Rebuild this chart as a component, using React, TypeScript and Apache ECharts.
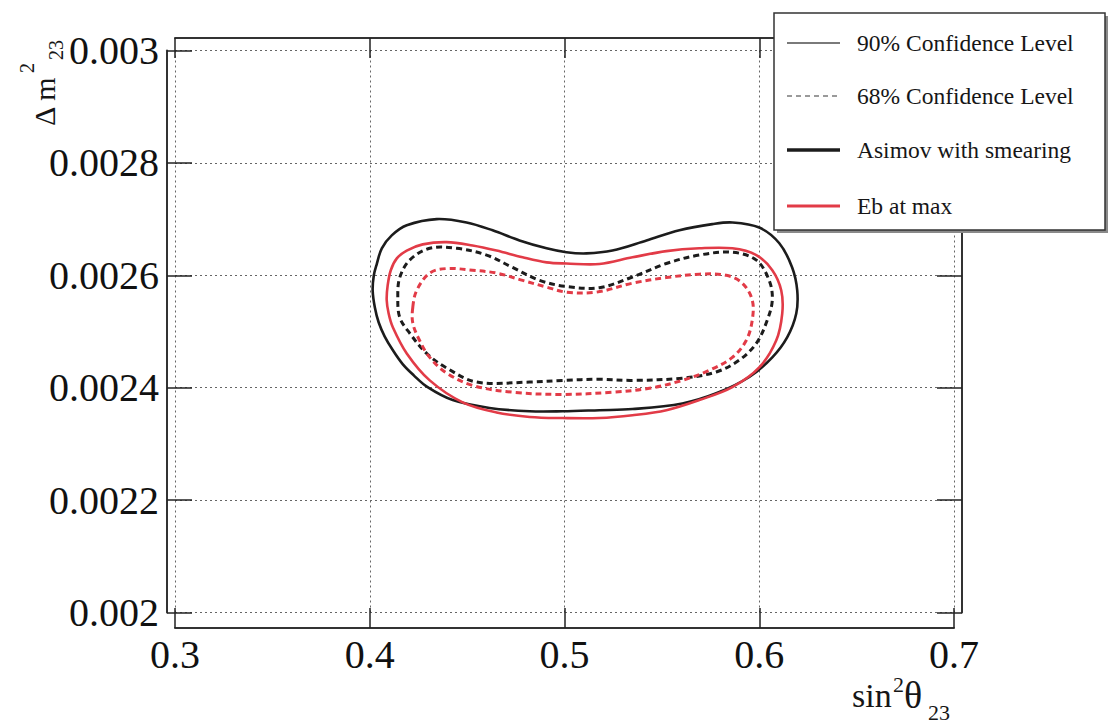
import React, { useEffect, useRef } from 'react';
import * as echarts from 'echarts';

// Axis ranges (tick labels come from these through the axis)
const X_MIN = 0.3;
const X_MAX = 0.7;
const X_STEP = 0.1;
const Y_MIN = 0.002;
const Y_MAX = 0.003;
const Y_STEP = 0.0002;

// Contours: [sin^2 theta23, delta m^2_23]
const asimov90: number[][] = [
  [0.4015, 0.002573], [0.4021, 0.002600], [0.4036, 0.002620], [0.4062, 0.002648],
  [0.4113, 0.002671], [0.4190, 0.002689], [0.4344, 0.002700], [0.4497, 0.002694],
  [0.4631, 0.002680], [0.4769, 0.002662], [0.4908, 0.002648], [0.5010, 0.002641],
  [0.5113, 0.002639], [0.5246, 0.002644], [0.5421, 0.002662], [0.5590, 0.002680],
  [0.5759, 0.002691], [0.5862, 0.002694], [0.6000, 0.002685], [0.6103, 0.002657],
  [0.6169, 0.002614], [0.6195, 0.002573], [0.6190, 0.002532], [0.6144, 0.002490],
  [0.6067, 0.002454], [0.5949, 0.002419], [0.5779, 0.002390], [0.5605, 0.002372],
  [0.5349, 0.002362], [0.5179, 0.002360], [0.4990, 0.002358], [0.4821, 0.002358],
  [0.4615, 0.002364], [0.4426, 0.002378], [0.4297, 0.002401], [0.4226, 0.002422],
  [0.4169, 0.002442], [0.4118, 0.002467], [0.4077, 0.002491], [0.4046, 0.002516],
  [0.4026, 0.002543],
];

const asimov68: number[][] = [
  [0.4144, 0.002561], [0.4154, 0.002596], [0.4205, 0.002627], [0.4308, 0.002648],
  [0.4446, 0.002648], [0.4600, 0.002636], [0.4733, 0.002614], [0.4872, 0.002591],
  [0.5010, 0.002580], [0.5179, 0.002578], [0.5349, 0.002597], [0.5523, 0.002621],
  [0.5692, 0.002636], [0.5862, 0.002641], [0.5985, 0.002627], [0.6051, 0.002591],
  [0.6067, 0.002556], [0.6041, 0.002520], [0.5985, 0.002479], [0.5897, 0.002449],
  [0.5779, 0.002428], [0.5605, 0.002417], [0.5349, 0.002413], [0.5179, 0.002415],
  [0.4990, 0.002413], [0.4821, 0.002410], [0.4549, 0.002410], [0.4395, 0.002435],
  [0.4292, 0.002461], [0.4205, 0.002497], [0.4154, 0.002525],
];

const ebMax90: number[][] = [
  [0.4087, 0.002556], [0.4092, 0.002582], [0.4108, 0.002609], [0.4139, 0.002630],
  [0.4190, 0.002644], [0.4272, 0.002655], [0.4395, 0.002659], [0.4528, 0.002653],
  [0.4651, 0.002644], [0.4785, 0.002632], [0.4908, 0.002623], [0.5010, 0.002621],
  [0.5179, 0.002620], [0.5349, 0.002632], [0.5523, 0.002643], [0.5692, 0.002648],
  [0.5862, 0.002648], [0.5985, 0.002636], [0.6067, 0.002609], [0.6113, 0.002573],
  [0.6118, 0.002532], [0.6087, 0.002484], [0.6000, 0.002436], [0.5862, 0.002401],
  [0.5692, 0.002378], [0.5523, 0.002360], [0.5349, 0.002351], [0.5179, 0.002346],
  [0.4990, 0.002346], [0.4821, 0.002348], [0.4651, 0.002356], [0.4477, 0.002374],
  [0.4308, 0.002413], [0.4190, 0.002461], [0.4118, 0.002508], [0.4097, 0.002532],
];

const ebMax68: number[][] = [
  [0.4221, 0.002543], [0.4241, 0.002573], [0.4308, 0.002604], [0.4395, 0.002612],
  [0.4528, 0.002609], [0.4651, 0.002604], [0.4785, 0.002591], [0.4908, 0.002579],
  [0.5010, 0.002570], [0.5164, 0.002570], [0.5349, 0.002586], [0.5523, 0.002596],
  [0.5692, 0.002602], [0.5831, 0.002600], [0.5913, 0.002586], [0.5964, 0.002556],
  [0.5964, 0.002520], [0.5933, 0.002484], [0.5862, 0.002454], [0.5744, 0.002431],
  [0.5605, 0.002413], [0.5436, 0.002399], [0.5246, 0.002392], [0.4990, 0.002388],
  [0.4733, 0.002392], [0.4528, 0.002404], [0.4395, 0.002426], [0.4308, 0.002454],
  [0.4256, 0.002484], [0.4221, 0.002515],
];

const legendLabels = ['90% Confidence Level', '68% Confidence Level', 'Asimov with smearing', 'Eb at max'];

const SERIF = '"Liberation Serif", "DejaVu Serif", serif';
const BLACK = '#1c1c1c';
const RED = '#e23b47';

function contour(name: string, pts: number[][], color: string, dashed: boolean, width: number) {
  return {
    name,
    type: 'custom',
    coordinateSystem: 'cartesian2d',
    xAxisIndex: 0,
    yAxisIndex: 0,
    data: pts,
    encode: { x: 0, y: 1 },
    silent: true,
    renderItem: (params: any, api: any) => {
      if (params.dataIndex !== 0) return null;
      const points = pts.map((p) => api.coord(p));
      return {
        type: 'polygon',
        shape: { points, smooth: 0.35 },
        style: {
          fill: 'none',
          stroke: color,
          lineWidth: width,
          lineDash: dashed ? [6, 4] : null,
        },
      };
    },
  };
}

function txt(text: string, x: number, y: number, size: number, align = 'left') {
  return {
    type: 'text',
    x,
    y,
    z: 110,
    style: {
      text,
      font: `${size}px "Liberation Serif", serif`,
      fontFamily: SERIF,
      fontSize: size,
      fill: '#161616',
      align,
      textAlign: align,
      verticalAlign: 'middle',
      textVerticalAlign: 'middle',
    },
  };
}

export default function App() {
  const ref = useRef<HTMLDivElement>(null);
  useEffect(() => {
    if (!ref.current) return;
    const chart = echarts.init(ref.current, null, { renderer: 'svg' });
    const fmt = (v: number) => String(parseFloat(v.toFixed(4)));
    const legendRows = [43, 96, 150, 206];
    const option: any = {
      animation: false,
      backgroundColor: '#ffffff',
      grid: { left: 175, right: 158, top: 50.5, bottom: 111.5, containLabel: false },
      xAxis: [
        {
          type: 'value', min: X_MIN, max: X_MAX, interval: X_STEP, position: 'bottom', offset: 15.5,
          axisLine: { show: true, onZero: false, lineStyle: { color: '#333', width: 2 } },
          axisTick: { show: true, inside: true, length: 20, lineStyle: { color: '#222', width: 1.5 } },
          axisLabel: { show: true, margin: 6, fontFamily: SERIF, fontSize: 40, color: '#111', formatter: fmt },
          splitLine: { show: true, lineStyle: { color: '#666', width: 1, type: [2, 3] } },
        },
        {
          type: 'value', min: X_MIN, max: X_MAX, interval: X_STEP, position: 'top', offset: 12.5,
          axisLine: { show: true, onZero: false, lineStyle: { color: '#333', width: 2 } },
          axisTick: { show: true, inside: true, length: 20, lineStyle: { color: '#222', width: 1.5 } },
          axisLabel: { show: false },
          splitLine: { show: false },
        },
      ],
      yAxis: [
        {
          type: 'value', min: Y_MIN, max: Y_MAX, interval: Y_STEP, position: 'left', offset: 8,
          axisLine: { show: true, onZero: false, lineStyle: { color: '#333', width: 2 } },
          axisTick: { show: true, inside: true, length: 25, lineStyle: { color: '#222', width: 1.5 } },
          axisLabel: { show: true, margin: 8, fontFamily: SERIF, fontSize: 40, color: '#111', formatter: fmt },
          splitLine: { show: true, lineStyle: { color: '#666', width: 1, type: [2, 3] } },
        },
        {
          type: 'value', min: Y_MIN, max: Y_MAX, interval: Y_STEP, position: 'right', offset: 8,
          axisLine: { show: true, onZero: false, lineStyle: { color: '#333', width: 2 } },
          axisTick: { show: true, inside: true, length: 25, lineStyle: { color: '#222', width: 1.5 } },
          axisLabel: { show: false },
          splitLine: { show: false },
        },
      ],
      series: [
        contour('Asimov 90%', asimov90, BLACK, false, 2.6),
        contour('Asimov 68%', asimov68, BLACK, true, 3),
        contour('Eb at max 90%', ebMax90, RED, false, 2.6),
        contour('Eb at max 68%', ebMax68, RED, true, 3),
      ],
      graphic: {
        elements: [
          // legend box shadow + box
          { type: 'rect', z: 100, shape: { x: 777, y: 16, width: 331, height: 217 }, style: { fill: '#8a8a8a' } },
          { type: 'rect', z: 101, shape: { x: 774, y: 13, width: 331, height: 217 }, style: { fill: '#ffffff', stroke: '#333', lineWidth: 1.5 } },
          { type: 'line', z: 110, shape: { x1: 787, y1: legendRows[0], x2: 840, y2: legendRows[0] }, style: { stroke: '#7a7a7a', lineWidth: 2 } },
          { type: 'line', z: 110, shape: { x1: 787, y1: legendRows[1], x2: 840, y2: legendRows[1] }, style: { stroke: '#9a9a9a', lineWidth: 2, lineDash: [5, 4] } },
          { type: 'line', z: 110, shape: { x1: 787, y1: legendRows[2], x2: 840, y2: legendRows[2] }, style: { stroke: BLACK, lineWidth: 3.5 } },
          { type: 'line', z: 110, shape: { x1: 787, y1: legendRows[3], x2: 840, y2: legendRows[3] }, style: { stroke: RED, lineWidth: 3 } },
          txt(legendLabels[0], 857, legendRows[0], 23.5),
          txt(legendLabels[1], 857, legendRows[1], 23.5),
          txt(legendLabels[2], 857, legendRows[2], 23.5),
          txt(legendLabels[3], 857, legendRows[3], 23.5),
          // x axis title: sin^2 theta_23
          txt('sin', 852, 695, 34),
          txt('2', 893, 684, 22),
          txt('θ', 904, 695, 38),
          txt('23', 928, 712, 22),
          // y axis title: Delta m^2_23 (rotated)
          {
            type: 'group', x: 55, y: 126, rotation: Math.PI / 2, z: 110,
            children: [
              txt('Δ m', 0, -10.5, 30),
              txt('2', 53, -28, 20),
              txt('23', 66, 1, 20),
            ],
          },
        ],
      },
    };
    chart.setOption(option);
    return () => chart.dispose();
  }, []);
  return (
    <div
      ref={ref}
      style={{ position: 'fixed', left: 0, top: 0, width: 1112, height: 724, background: '#fff' }}
    />
  );
}
